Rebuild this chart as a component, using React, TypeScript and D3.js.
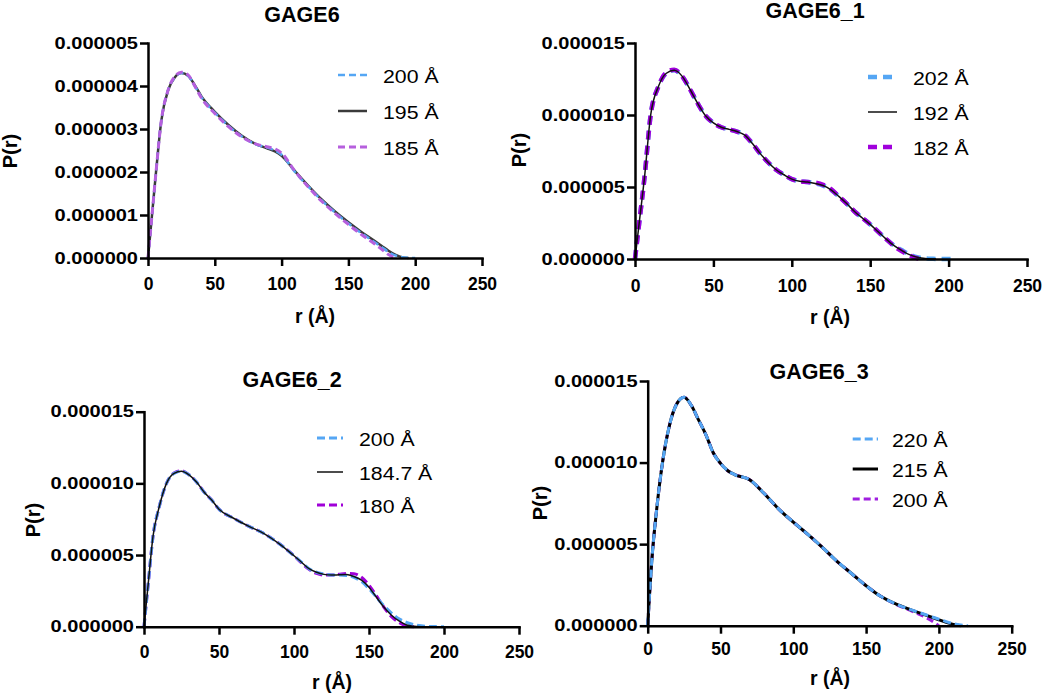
import React, { useRef, useEffect } from 'react';
import * as d3 from 'd3';

const FONT = '"Liberation Sans", Arial, Helvetica, sans-serif';
const X_TICKS = [0, 50, 100, 150, 200, 250];

// P(r) values are in units of 1e-6
// GAGE6
const g6R = [0, 3, 6, 10, 15, 20, 25, 30, 35, 40, 50, 60, 70, 80, 90, 95, 100, 110, 120, 130, 140, 150, 160, 170, 175, 180, 185, 190, 195, 200];
const g6P200 = [0, 1.0, 2.0, 3.2, 3.9, 4.2, 4.3, 4.24, 4.0, 3.74, 3.38, 3.08, 2.83, 2.65, 2.56, 2.5, 2.4, 2.0, 1.66, 1.34, 1.06, 0.8, 0.57, 0.36, 0.25, 0.14, 0.06, 0.02, 0.005, 0];
const g6P195 = [0, 1.0, 2.0, 3.2, 3.9, 4.2, 4.3, 4.24, 4.02, 3.76, 3.4, 3.1, 2.85, 2.66, 2.54, 2.48, 2.38, 2.02, 1.68, 1.36, 1.08, 0.83, 0.6, 0.39, 0.28, 0.17, 0.08, 0.02, 0];
const g6P185 = [0, 1.0, 2.0, 3.2, 3.9, 4.22, 4.32, 4.26, 4.0, 3.72, 3.36, 3.06, 2.82, 2.66, 2.58, 2.54, 2.44, 2.02, 1.65, 1.32, 1.04, 0.78, 0.54, 0.32, 0.2, 0.08, 0];

// GAGE6_1
const g61R = [0, 3, 6, 10, 15, 20, 25, 30, 35, 40, 45, 50, 55, 60, 65, 70, 75, 80, 85, 90, 95, 100, 105, 110, 115, 120, 125, 130, 135, 140, 145, 150, 155, 160, 165, 170, 175, 180, 182, 185, 190, 192, 195, 200, 202];
const g61P202 = [0, 2.8, 5.6, 10.0, 12.0, 12.9, 13.1, 12.7, 11.8, 10.8, 9.95, 9.45, 9.15, 9.0, 8.85, 8.6, 8.0, 7.3, 6.7, 6.2, 5.85, 5.55, 5.4, 5.35, 5.25, 5.1, 4.8, 4.35, 3.85, 3.3, 2.85, 2.4, 1.9, 1.4, 0.95, 0.62, 0.32, 0.12, 0.08, 0.04, 0.01, 0.003, 0, 0, 0];
const g61P192 = [0, 2.8, 5.6, 10.0, 12.0, 12.9, 13.1, 12.7, 11.8, 10.8, 9.95, 9.45, 9.15, 9.0, 8.85, 8.6, 8.0, 7.3, 6.7, 6.2, 5.85, 5.55, 5.4, 5.35, 5.25, 5.1, 4.8, 4.35, 3.85, 3.3, 2.85, 2.4, 1.9, 1.4, 0.95, 0.6, 0.3, 0.12, 0.08, 0.03, 0.005, 0];
const g61P182 = [0, 2.8, 5.6, 10.0, 12.0, 12.95, 13.15, 12.7, 11.8, 10.8, 9.95, 9.45, 9.15, 9.0, 8.85, 8.6, 8.0, 7.3, 6.7, 6.2, 5.85, 5.55, 5.4, 5.35, 5.3, 5.15, 4.85, 4.35, 3.85, 3.3, 2.85, 2.4, 1.9, 1.4, 0.92, 0.55, 0.25, 0.05, 0];

// GAGE6_2
const g62R = [0, 3, 6, 10, 15, 20, 25, 30, 35, 40, 45, 50, 60, 70, 80, 90, 100, 105, 110, 115, 120, 125, 130, 135, 140, 145, 150, 155, 160, 165, 170, 175, 180, 184.7, 190, 195, 200];
const g62P200 = [0, 3.2, 6.3, 8.3, 10.0, 10.7, 10.85, 10.6, 10.1, 9.4, 8.85, 8.2, 7.55, 7.0, 6.5, 5.8, 4.95, 4.5, 4.05, 3.8, 3.68, 3.6, 3.6, 3.58, 3.45, 3.15, 2.65, 2.05, 1.45, 0.95, 0.55, 0.3, 0.14, 0.06, 0.02, 0.005, 0];
const g62P1847 = [0, 3.2, 6.3, 8.3, 10.0, 10.7, 10.85, 10.6, 10.1, 9.4, 8.85, 8.2, 7.55, 7.0, 6.5, 5.8, 4.95, 4.5, 4.05, 3.8, 3.65, 3.6, 3.62, 3.64, 3.5, 3.25, 2.75, 2.05, 1.35, 0.8, 0.4, 0.12, 0.03, 0];
const g62P180 = [0, 3.2, 6.3, 8.3, 10.0, 10.72, 10.88, 10.6, 10.1, 9.4, 8.85, 8.2, 7.55, 7.0, 6.5, 5.8, 4.95, 4.45, 4.0, 3.72, 3.6, 3.6, 3.66, 3.72, 3.7, 3.45, 2.9, 2.15, 1.35, 0.7, 0.3, 0.06, 0];

// GAGE6_3
const g63R = [0, 3, 6, 10, 15, 20, 25, 30, 35, 40, 45, 50, 55, 60, 70, 80, 90, 100, 110, 120, 130, 140, 150, 160, 170, 180, 190, 195, 200, 205, 210, 215, 220];
const g63P220 = [0, 4.2, 7.0, 9.9, 12.3, 13.6, 14.0, 13.5, 12.6, 11.7, 10.6, 9.95, 9.5, 9.25, 8.95, 8.1, 7.15, 6.35, 5.6, 4.8, 3.95, 3.2, 2.45, 1.8, 1.35, 1.0, 0.7, 0.55, 0.4, 0.25, 0.12, 0.04, 0];
const g63P215 = [0, 4.2, 7.0, 9.9, 12.3, 13.6, 14.0, 13.5, 12.6, 11.7, 10.6, 9.95, 9.5, 9.25, 8.95, 8.1, 7.15, 6.35, 5.6, 4.8, 3.95, 3.2, 2.45, 1.8, 1.35, 1.0, 0.68, 0.52, 0.36, 0.2, 0.07, 0];
const g63P200 = [0, 4.2, 7.0, 9.9, 12.3, 13.6, 14.0, 13.5, 12.6, 11.7, 10.6, 9.95, 9.5, 9.25, 8.95, 8.1, 7.15, 6.35, 5.6, 4.8, 3.95, 3.2, 2.45, 1.8, 1.33, 0.95, 0.55, 0.3, 0];

const BLUE = '#55a6f4';

const panels = [
  {
    title: 'GAGE6', yMax: 5, yTicks: [0, 1, 2, 3, 4, 5],
    x0: 148, x1: 482, yTop: 43, yBot: 258,
    titleX: 302, titleY: 21.5, xLabX: 315, xLabY: 323, yLabX: 16.5, yLabY: 151,
    legX: 338, legW: 29, legTextX: 383, legY: [75, 111, 147], xTickPad: 12,
    series: [
      { label: '200 Å', r: g6R, p: g6P200, color: BLUE, width: 2.5, dash: '7,4' },
      { label: '195 Å', r: g6R, p: g6P195, color: '#3a3a3a', width: 2.5, dash: null },
      { label: '185 Å', r: g6R, p: g6P185, color: '#b65fdd', width: 3, dash: '7,4' },
    ],
    order: [1, 0, 2],
  },
  {
    title: 'GAGE6_1', yMax: 15, yTicks: [0, 5, 10, 15],
    x0: 635, x1: 1027, yTop: 43, yBot: 259,
    titleX: 815, titleY: 18, xLabX: 830, xLabY: 324, yLabX: 526, yLabY: 150,
    legX: 868, legW: 29, legTextX: 913, legY: [77, 112, 147], xTickPad: 13,
    series: [
      { label: '202 Å', r: g61R, p: g61P202, color: BLUE, width: 4.5, dash: '9,6' },
      { label: '192 Å', r: g61R, p: g61P192, color: '#111111', width: 1.5, dash: null },
      { label: '182 Å', r: g61R, p: g61P182, color: '#a000dc', width: 4.5, dash: '9,6' },
    ],
    order: [0, 2, 1],
  },
  {
    title: 'GAGE6_2', yMax: 15, yTicks: [0, 5, 10, 15],
    x0: 144, x1: 519, yTop: 411.7, yBot: 626.7,
    titleX: 292, titleY: 386.7, xLabX: 332, xLabY: 689, yLabX: 40, yLabY: 520,
    legX: 317, legW: 26, legTextX: 359, legY: [438, 472, 505], xTickPad: 10.5,
    series: [
      { label: '200 Å', r: g62R, p: g62P200, color: BLUE, width: 3, dash: '8,4' },
      { label: '184.7 Å', r: g62R, p: g62P1847, color: '#111111', width: 1.5, dash: null },
      { label: '180 Å', r: g62R, p: g62P180, color: '#a000d8', width: 3, dash: '8,4' },
    ],
    order: [2, 0, 1],
  },
  {
    title: 'GAGE6_3', yMax: 15, yTicks: [0, 5, 10, 15],
    x0: 647.7, x1: 1011.7, yTop: 381, yBot: 625.7,
    titleX: 819, titleY: 379, xLabX: 830, xLabY: 685, yLabX: 547, yLabY: 503,
    legX: 852.7, legW: 25.3, legTextX: 892, legY: [439, 469, 499], xTickPad: 9,
    series: [
      { label: '220 Å', r: g63R, p: g63P220, color: BLUE, width: 3, dash: '8,4' },
      { label: '215 Å', r: g63R, p: g63P215, color: '#000000', width: 3, dash: null },
      { label: '200 Å', r: g63R, p: g63P200, color: '#a01ee0', width: 3, dash: '7,4' },
    ],
    order: [2, 1, 0],
  },
];

const Y_SX = 1.25;
const LEG_SX = 1.12;

function Panel({ cfg }) {
  const xRef = useRef(null);
  const yRef = useRef(null);

  const x = d3.scaleLinear().domain([0, 250]).range([cfg.x0, cfg.x1]);
  const y = d3.scaleLinear().domain([0, cfg.yMax]).range([cfg.yBot, cfg.yTop]);
  const fmt = d3.format('.6f');

  useEffect(() => {
    const xa = d3.axisBottom(x).tickValues(X_TICKS).tickSize(8).tickSizeOuter(0)
      .tickPadding(cfg.xTickPad).tickFormat(d3.format('d'));
    const gx = d3.select(xRef.current).attr('transform', `translate(0,${cfg.yBot})`).call(xa);
    gx.select('.domain').attr('stroke', '#000').attr('stroke-width', 2.5).attr('stroke-linecap', 'square');
    gx.selectAll('.tick line').attr('stroke', '#000').attr('stroke-width', 2.5);
    gx.selectAll('.tick text')
      .attr('fill', '#000').style('font-family', FONT).style('font-size', '17.5px').style('font-weight', 'bold');

    const ya = d3.axisLeft(y).tickValues(cfg.yTicks).tickSize(8).tickSizeOuter(0)
      .tickPadding(2).tickFormat(d => fmt(d * 1e-6));
    const gy = d3.select(yRef.current).attr('transform', `translate(${cfg.x0},0)`).call(ya);
    gy.select('.domain').attr('stroke', '#000').attr('stroke-width', 2.5).attr('stroke-linecap', 'square');
    gy.selectAll('.tick line').attr('stroke', '#000').attr('stroke-width', 2.5);
    gy.selectAll('.tick text')
      .attr('fill', '#000').attr('x', -10 / Y_SX).attr('transform', `scale(${Y_SX},1)`)
      .style('font-family', FONT).style('font-size', '16px').style('font-weight', 'bold');
  }, []);

  const lineFor = (s) =>
    d3.line().x((_, i) => x(s.r[i])).y(d => y(d)).curve(d3.curveMonotoneX)(s.p);

  return (
    <g>
      <text x={cfg.titleX} y={cfg.titleY} textAnchor="middle" fontFamily={FONT}
        fontSize="21.5" fontWeight="bold">{cfg.title}</text>
      {cfg.order.map(i => {
        const s = cfg.series[i];
        return (
          <path key={i} d={lineFor(s)} fill="none" stroke={s.color} strokeWidth={s.width}
            strokeDasharray={s.dash || undefined} strokeLinejoin="round" />
        );
      })}
      <g ref={xRef} />
      <g ref={yRef} />
      {cfg.series.map((s, i) => (
        <g key={i}>
          <line x1={cfg.legX} x2={cfg.legX + cfg.legW} y1={cfg.legY[i]} y2={cfg.legY[i]}
            stroke={s.color} strokeWidth={s.width} strokeDasharray={s.dash || undefined} />
          <text transform={`translate(${cfg.legTextX},${cfg.legY[i] + 7.5}) scale(${LEG_SX},1)`}
            fontFamily={FONT} fontSize="19">{s.label}</text>
        </g>
      ))}
      <text x={cfg.xLabX} y={cfg.xLabY} textAnchor="middle" fontFamily={FONT}
        fontSize="19.5" fontWeight="bold">r (Å)</text>
      <text transform={`translate(${cfg.yLabX},${cfg.yLabY}) rotate(-90)`} textAnchor="middle"
        fontFamily={FONT} fontSize="20" fontWeight="bold">P(r)</text>
    </g>
  );
}

export default function App() {
  return (
    <svg width={1046} height={694} style={{ position: 'absolute', left: 0, top: 0, background: '#fff' }}>
      <rect width={1046} height={694} fill="#fff" />
      {panels.map((p, i) => <Panel key={i} cfg={p} />)}
    </svg>
  );
}
